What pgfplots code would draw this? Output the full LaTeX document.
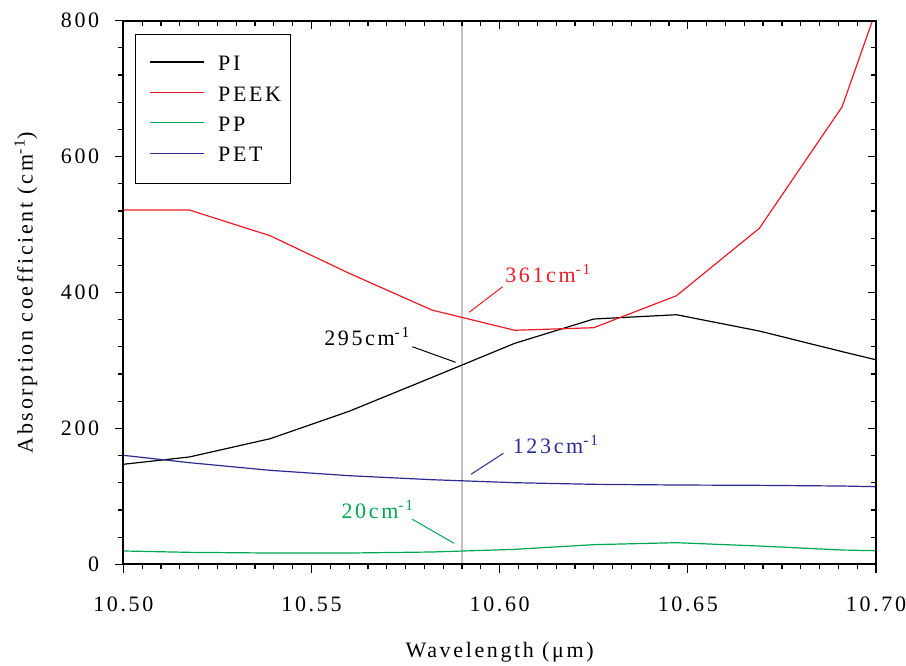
\documentclass[border=0pt]{standalone}
\usepackage{fontspec}
\setmainfont[LetterSpace=12]{Liberation Serif}
\usepackage{pgfplots}
\pgfplotsset{compat=1.18}
\definecolor{cred}{RGB}{237,28,36}
\definecolor{cgreen}{RGB}{0,166,81}
\definecolor{cblue}{RGB}{43,43,145}
\definecolor{cgray}{RGB}{195,195,195}

\pgfplotstableread{
x y
10.500 147.2
10.5175 157.9
10.539 184.8
10.560 225.2
10.582 275
10.604 325.2
10.625 361
10.647 367.3
10.669 343.3
10.691 313
10.700 301
}\tPI
\pgfplotstableread{
x y
10.500 521.5
10.5175 521.5
10.539 483.6
10.560 428.3
10.582 374.2
10.604 344.4
10.625 348.2
10.647 395.3
10.669 494.5
10.691 673.4
10.700 815
}\tPEEK
\pgfplotstableread{
x y
10.500 19.6
10.5175 17.6
10.539 16.6
10.560 16.6
10.582 18.1
10.604 22
10.625 28.9
10.647 31.8
10.669 26.9
10.691 21
10.700 20
}\tPP
\pgfplotstableread{
x y
10.500 160.4
10.5175 149.6
10.539 138.3
10.560 130.4
10.582 124.5
10.604 120.1
10.625 117.7
10.647 116.7
10.669 116.2
10.691 115.2
10.700 114.2
}\tPET

\begin{document}
\fontsize{11}{13}\selectfont
\begin{tikzpicture}[font=\fontsize{11}{13}\selectfont]
\useasboundingbox (0,0) rectangle (453pt,332.5pt);
\pgfplotsset{common/.style={
  at={(61.65pt,50.35pt)}, anchor=south west, scale only axis,
  width=376.35pt, height=271.8pt,
  xmin=10.5, xmax=10.7, ymin=0, ymax=800,
  xtick={10.5,10.55,10.6,10.65,10.7}, ytick={0,200,400,600,800},
  minor x tick num=9, minor y tick num=4,
  major tick length=4.2pt, minor tick length=2.5pt,
  axis line style={line width=1pt},
  every tick/.style={black, line width=0.6pt},
  /pgf/number format/assume math mode=true,
}}
\begin{axis}[common,
  xtick pos=left, ytick pos=left, tick align=outside,
  xticklabel style={/pgf/number format/.cd, fixed, fixed zerofill, precision=2, /tikz/.cd, yshift=-8pt},
  yticklabel style={xshift=-4pt},
  xlabel={Wavelength (μm)},
  xlabel style={at={(axis description cs:0.5,0)}, anchor=center, yshift=-44.2pt},
  ylabel={Absorption coefficient (cm\textsuperscript{-1})},
  ylabel style={at={(axis description cs:-0.1294,0.5)}, anchor=center},
  legend style={at={(rel axis cs:0.0155,0.9755)}, anchor=north west, draw=black, line width=0.6pt,
    inner xsep=7pt, inner ysep=11pt, row sep=8.2pt, column sep=7pt,
    nodes={inner sep=0pt, text height=7pt, text depth=0pt}},
  legend cell align=left,
  legend image code/.code={\draw[#1] (0pt,0.8pt) -- (26.7pt,0.8pt);},
]
\addplot[cgray, line width=0.6pt, forget plot] coordinates {(10.59,0) (10.59,800)};
\addplot[black, line width=0.6pt] table[x=x,y=y] {\tPI};
\addlegendentry{\makebox[29pt][l]{PI}}
\addplot[cred, line width=0.6pt] table[x=x,y=y] {\tPEEK};
\addlegendentry{\makebox[29pt][l]{PEEK}}
\addplot[cgreen, line width=0.6pt] table[x=x,y=y] {\tPP};
\addlegendentry{\makebox[29pt][l]{PP}}
\addplot[cblue, line width=0.6pt] table[x=x,y=y] {\tPET};
\addlegendentry{\makebox[29pt][l]{PET}}

\draw[cred, line width=0.5pt] (axis cs:10.6008,408.5) -- (axis cs:10.5919,370.9);
\node[cred, anchor=base west, inner sep=0pt] at (axis cs:10.6014,415) {361cm\textsuperscript{-1}};
\draw[black, line width=0.5pt] (axis cs:10.5768,320.2) -- (axis cs:10.5883,297.3);
\node[black, anchor=base west, inner sep=0pt] at (axis cs:10.5533,322.7) {295cm\textsuperscript{-1}};
\draw[cblue, line width=0.5pt] (axis cs:10.6010,163.4) -- (axis cs:10.5924,132.5);
\node[cblue, anchor=base west, inner sep=0pt] at (axis cs:10.6034,163.4) {123cm\textsuperscript{-1}};
\draw[cgreen, line width=0.5pt] (axis cs:10.5768,66.2) -- (axis cs:10.5879,30.9);
\node[cgreen, anchor=base west, inner sep=0pt] at (axis cs:10.5579,67.1) {20cm\textsuperscript{-1}};
\end{axis}
\begin{axis}[common,
  xtick pos=right, ytick pos=right, tick align=inside,
  xticklabels={}, yticklabels={},
]
\end{axis}
\end{tikzpicture}
\end{document}
